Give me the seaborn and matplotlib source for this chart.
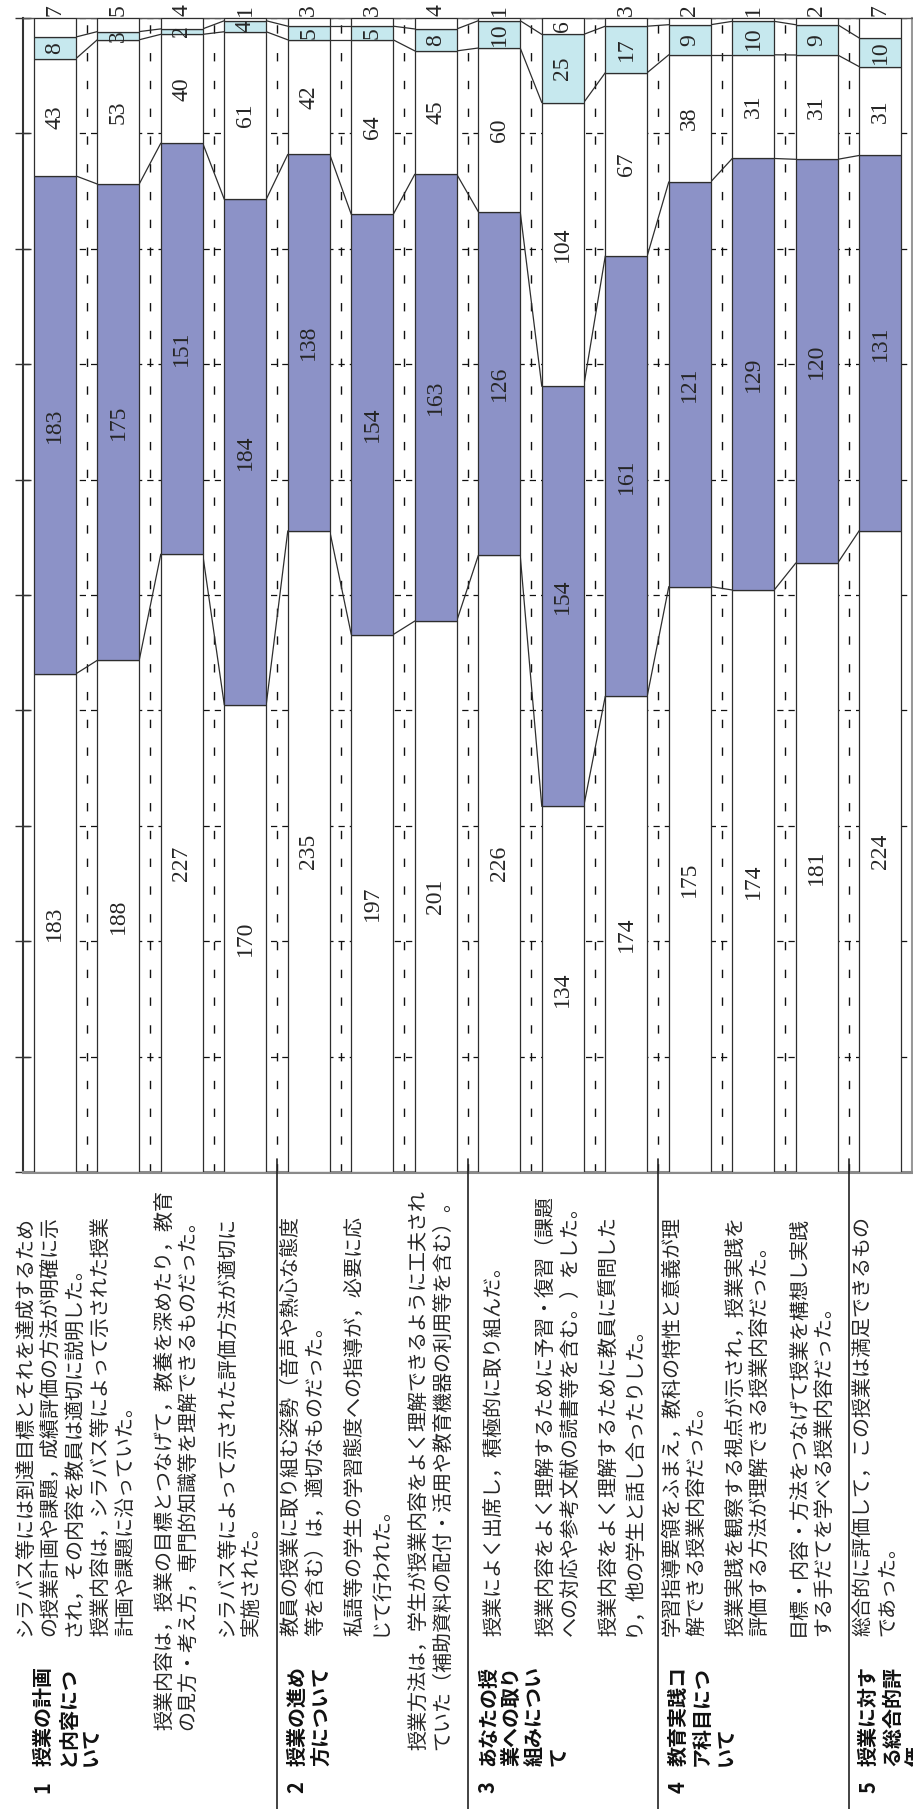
import numpy as np
import pandas as pd
import matplotlib
matplotlib.use("Agg")
import matplotlib.pyplot as plt
import matplotlib.transforms as mtransforms
from matplotlib.lines import Line2D
import seaborn as sns

# Number of answers per question, stacked from the bottom of each bar
answers_a = [183, 188, 227, 170, 235, 197, 201, 226, 134, 174, 175, 174, 181, 224]
answers_b = [183, 175, 151, 184, 138, 154, 163, 126, 154, 161, 121, 129, 120, 131]
answers_c = [43, 53, 40, 61, 42, 64, 45, 60, 104, 67, 38, 31, 31, 31]
answers_d = [8, 3, 2, 4, 5, 5, 8, 10, 25, 17, 9, 10, 9, 10]
answers_e = [7, 5, 4, 1, 3, 3, 4, 1, 6, 3, 2, 1, 2, 7]

questions = [
    "シラバス等には到達目標とそれを達成するため\nの授業計画や課題，成績評価の方法が明確に示\nされ，その内容を教員は適切に説明した。",
    "授業内容は，シラバス等によって示された授業\n計画や課題に沿っていた。",
    "授業内容は，授業の目標とつなげて，教養を深めたり，教育\nの見方・考え方，専門的知識等を理解できるものだった。",
    "シラバス等によって示された評価方法が適切に\n実施された。",
    "教員の授業に取り組む姿勢（音声や熱心な態度\n等を含む）は，適切なものだった。",
    "私語等の学生の学習態度への指導が，必要に応\nじて行われた。",
    "授業方法は，学生が授業内容をよく理解できるように工夫され\nていた（補助資料の配付・活用や教育機器の利用等を含む）。",
    "授業によく出席し，積極的に取り組んだ。",
    "授業内容をよく理解するために予習・復習（課題\nへの対応や参考文献の読書等を含む。）をした。",
    "授業内容をよく理解するために教員に質問した\nり，他の学生と話し合ったりした。",
    "学習指導要領をふまえ，教科の特性と意義が理\n解できる授業内容だった。",
    "授業実践を観察する視点が示され，授業実践を\n評価する方法が理解できる授業内容だった。",
    "目標・内容・方法をつなげて授業を構想し実践\nする手だてを学べる授業内容だった。",
    "総合的に評価して，この授業は満足できるもの\nであった。",
]

group_numbers = ["1", "2", "3", "4", "5"]
group_titles = [
    "授業の計画\nと内容につ\nいて",
    "授業の進め\n方について",
    "あなたの授\n業への取り\n組みについ\nて",
    "教育実践コ\nア科目につ\nいて",
    "授業に対す\nる総合的評\n価",
]
group_sizes = [4, 3, 3, 3, 1]

segment_colors = ["white", "#8c92c7", "white", "#c6e8ee", "white"]

# ---------------------------------------------------------------------------
sns.set_style("white")
plt.rcParams["font.family"] = ["Noto Sans CJK JP", "DejaVu Sans"]
NUM_FONT = ["Liberation Serif", "DejaVu Serif"]
NUM_SIZE = 17
NUM_COLOR = "#262626"

W, H = 913, 1809
fig = plt.figure(figsize=(W / 100, H / 100), dpi=100)
fig.patch.set_facecolor("white")

AX_L, AX_R, AX_T, AX_B = 23, 912, 18, 1172
ax = fig.add_axes([AX_L / W, 1 - AX_B / H, (AX_R - AX_L) / W, (AX_B - AX_T) / H])

series = [answers_a, answers_b, answers_c, answers_d, answers_e]
n = len(questions)
idx = np.arange(n)
totals = np.sum(np.array(series), axis=0)

df = pd.DataFrame({"q": idx})
bottom = np.zeros(n)
bounds = []
for k, vals in enumerate(series):
    pct = np.array(vals) / totals * 100
    df[f"pct{k}"] = pct
    sns.barplot(data=df, x="q", y=f"pct{k}", bottom=bottom, color=segment_colors[k],
                saturation=1, width=0.66, edgecolor="#2e2e2e", linewidth=0.9,
                errorbar=None, ax=ax, zorder=3)
    # value labels: inside the segments, the last one above the bar
    for i in range(n):
        if k < 4 or i == 8:
            ax.text(i, bottom[i] + pct[i] / 2, str(vals[i]), rotation=90,
                    rotation_mode="anchor", ha="center", va="center",
                    fontsize=NUM_SIZE, family=NUM_FONT, color=NUM_COLOR, zorder=5)
        else:
            ax.text(i, 100.15, str(vals[i]), rotation=90, rotation_mode="anchor",
                    ha="left", va="center", fontsize=NUM_SIZE, family=NUM_FONT,
                    color=NUM_COLOR, zorder=5, clip_on=False)
    bottom = bottom + pct
    bounds.append(bottom.copy())

# series lines joining the segment boundaries of neighbouring bars
half = 0.33
for b in bounds[:4]:
    for i in range(n - 1):
        ax.plot([i + half, i + 1 - half], [b[i], b[i + 1]], color="#2e2e2e",
                lw=0.9, zorder=2)

ax.set_xlim(-0.5, n - 0.5)
ax.set_ylim(0, 100)
ax.set_xlabel("")
ax.set_ylabel("")
ax.set_yticks(np.arange(0, 101, 10))
ax.set_yticklabels([])
ax.set_xticks([])
ax.set_xticks(np.arange(0.5, n - 0.5, 1), minor=True)
ax.grid(axis="y", which="major", linestyle=(0, (5, 4)), color="#111111", linewidth=0.9)
ax.grid(axis="x", which="minor", linestyle=(0, (6, 14)), color="#111111", linewidth=1.0)
ax.set_axisbelow(True)
ax.tick_params(axis="y", which="major", direction="inout", length=12, width=1,
               color="#333333", left=True)
ax.tick_params(axis="x", which="both", length=0)
for side, col, lw in [("left", "#333333", 1.5), ("bottom", "#8a8a8a", 2.2),
                      ("top", "#555555", 1.0), ("right", "#999999", 1.5)]:
    ax.spines[side].set_visible(True)
    ax.spines[side].set_color(col)
    ax.spines[side].set_linewidth(lw)

# ---------------------------------------------------------------------------
# question / group table below the chart
trans = mtransforms.blended_transform_factory(ax.transData, fig.transFigure)
px = (AX_R - AX_L) / n          # pixels per category
def fy(ypx):
    return 1 - ypx / H

TXT = 14.4
q_pitch = 24.5 / px
q_lines = []
for i, q in enumerate(questions):
    lines = q.split("\n")
    c = i - 5 / px
    arts = []
    for j, line in enumerate(lines):
        x = c + (j - (len(lines) - 1) / 2) * q_pitch
        t = fig.text(x, fy(1636), line, transform=trans, rotation=90,
                     rotation_mode="anchor", ha="left", va="center",
                     fontsize=TXT, color="#262626")
        arts.append(t)
    q_lines.append(arts)

# group separators and titles
starts = np.cumsum([0] + group_sizes[:-1])
for g, s in enumerate(starts):
    if g > 0:
        fig.add_artist(Line2D([s - 0.5, s - 0.5], [fy(1159), 0], transform=trans,
                              color="#222222", lw=1.2))
    x0 = s - 0.5 + 20 / px
    fig.text(x0, fy(1787), group_numbers[g], transform=trans, rotation=90,
             rotation_mode="anchor", ha="center", va="center", fontsize=TXT,
             fontweight="bold", color="#111111")
    for j, line in enumerate(group_titles[g].split("\n")):
        fig.text(x0 + j * 23.5 / px, fy(1766), line, transform=trans, rotation=90,
                 rotation_mode="anchor", ha="left", va="center", fontsize=TXT,
                 fontweight="bold", color="#111111")

# long questions are pushed down so they stay clear of the chart
fig.canvas.draw()
renderer = fig.canvas.get_renderer()
limit = H - 1190
for arts in q_lines:
    top = max(a.get_window_extent(renderer).y1 for a in arts)
    if top > limit:
        shift = (top - limit) / H
        for a in arts:
            xx, yy = a.get_position()
            a.set_position((xx, yy - shift))

fig.savefig("out.png", dpi=100, facecolor="white")
